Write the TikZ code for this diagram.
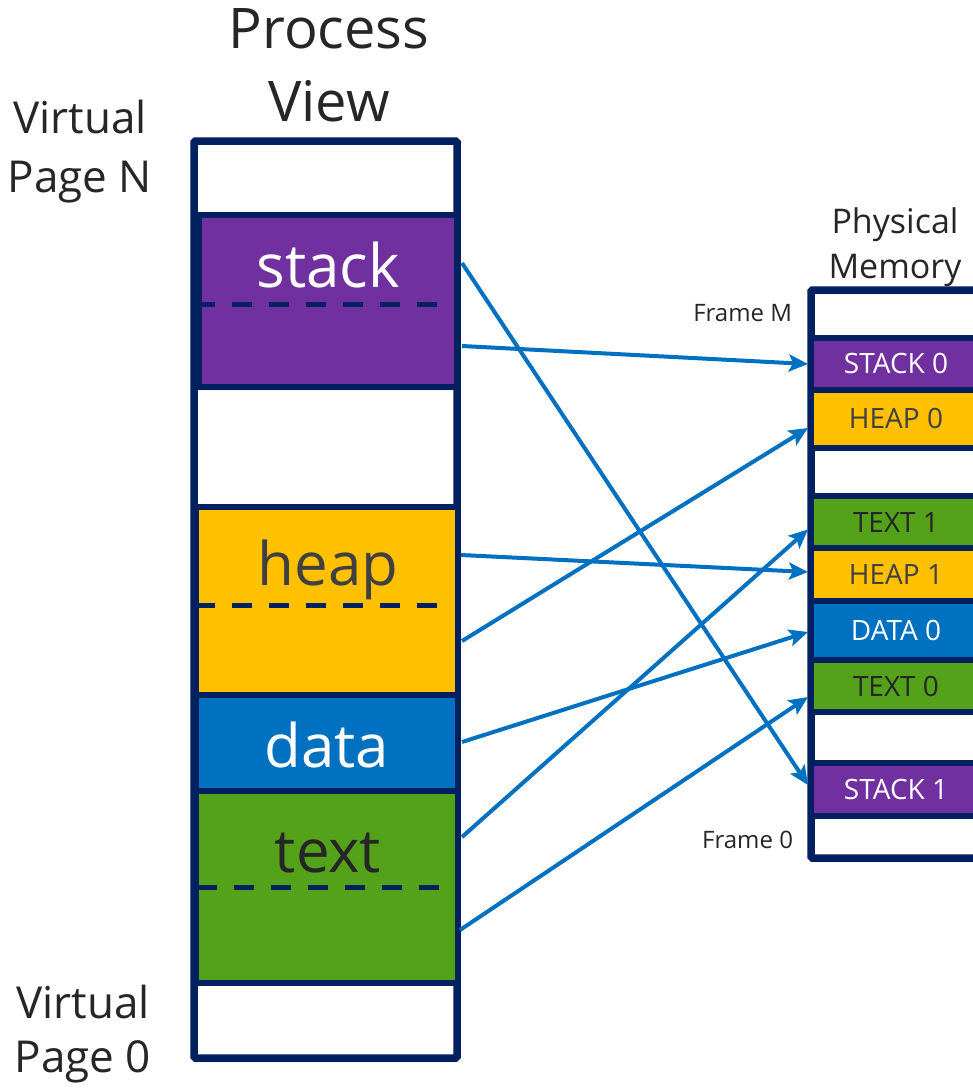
\documentclass[tikz,border=0pt]{standalone}
\usepackage{fontspec}
\setmainfont{Open Sans}
\usetikzlibrary{arrows.meta}

\definecolor{navy}{HTML}{002060}
\definecolor{segpurple}{HTML}{7030A0}
\definecolor{segyellow}{HTML}{FFC000}
\definecolor{segblue}{HTML}{0070C0}
\definecolor{seggreen}{HTML}{54A11A}
\definecolor{linkblue}{HTML}{0070C0}
\definecolor{inkdark}{HTML}{262626}
\definecolor{inkgray}{HTML}{404040}

\begin{document}
\begin{tikzpicture}[x=1bp, y=-1bp,
  every node/.style={inner sep=0pt, outer sep=0pt, text=inkdark},
  memcol/.style={draw=navy, fill=white, line width=7.5bp, rounded corners=1.5bp, anchor=north west},
  segment/.style={draw=navy, line width=6bp, anchor=north west},
  framebox/.style={segment, minimum width=170bp, font=\fontsize{28bp}{34bp}\selectfont},
  splitline/.style={draw=navy, line width=5bp, dash pattern=on 20bp off 17bp},
  blocklabel/.style={anchor=base, font=\fontsize{60bp}{72bp}\selectfont},
  maparrow/.style={draw=linkblue, line width=4bp, -{Stealth[length=19bp, width=17bp, inset=4bp]}},
]
\clip (0,0) rectangle (973,1089);
\fill[white] (0,0) rectangle (973,1089);

% ---- headings (placed by the baseline of their last line) ----
\node[anchor=base, align=center, font=\fontsize{56bp}{73bp}\selectfont] (title) at (329,121) {Process\\View};
\node[anchor=base, align=center, font=\fontsize{44bp}{59bp}\selectfont] (pagetop) at (80,192) {Virtual\\Page N};
\node[anchor=base, align=center, font=\fontsize{44bp}{54bp}\selectfont] (pagebottom) at (83,1072) {Virtual\\Page 0};
\node[anchor=base, align=center, font=\fontsize{34bp}{45bp}\selectfont] (phystitle) at (895,278) {Physical\\Memory};
\node[anchor=base east, font=\fontsize{24bp}{28bp}\selectfont] (framem) at (792,321) {Frame M};
\node[anchor=base east, font=\fontsize{24bp}{28bp}\selectfont] (frame0) at (793,848) {Frame 0};

% ---- virtual address space of the process ----
\node[memcol, minimum width=263bp, minimum height=917bp] (procview) at (194,141) {};
\node[segment, fill=segpurple, minimum width=258bp, minimum height=172.5bp] (stackseg) at (199,214.5) {};
\node[segment, fill=segyellow, minimum width=262bp, minimum height=188bp] (heapseg) at (196,507) {};
\node[segment, fill=segblue, minimum width=262bp, minimum height=96bp] (dataseg) at (196,695) {};
\node[segment, fill=seggreen, minimum width=262bp, minimum height=192bp] (textseg) at (196,791) {};

\draw[splitline] (195,304) -- (440,304);
\draw[splitline] (195,605) -- (440,605);
\draw[splitline] (197,887) -- (442,887);

\node[blocklabel, text=white] (stacklbl) at (328,287) {stack};
\node[blocklabel, text=inkgray] (heaplbl) at (328,585) {heap};
\node[blocklabel, text=white] (datalbl) at (327,767) {data};
\node[blocklabel, text=inkdark] (textlbl) at (328,872) {text};

% ---- physical frames ----
\node[memcol, minimum width=200bp, minimum height=568bp] (physmem) at (811,290) {};
\node[framebox, fill=segpurple, minimum height=52.5bp, text=white] (stack0) at (811,337.5) {STACK 0};
\node[framebox, fill=segyellow, minimum height=57.5bp, text=inkgray] (heap0) at (811,390) {HEAP 0};
\node[framebox, fill=seggreen, minimum height=52bp, text=inkdark] (text1) at (811,496) {TEXT 1};
\node[framebox, fill=segyellow, minimum height=52.5bp, text=inkgray] (heap1) at (811,548) {HEAP 1};
\node[framebox, fill=segblue, minimum height=59.5bp, text=white] (data0) at (811,600.5) {DATA 0};
\node[framebox, fill=seggreen, minimum height=52bp, text=inkdark] (text0) at (811,660) {TEXT 0};
\node[framebox, fill=segpurple, minimum height=53bp, text=white] (stack1) at (811,763) {STACK 1};

% ---- page to frame mappings ----
\draw[maparrow] ([shift={(5,48.5)}]stackseg.north east) -- ([shift={(-3,22)}]stack1.north west);
\draw[maparrow] ([shift={(5,131.5)}]stackseg.north east) -- ([shift={(-3,26.5)}]stack0.north west);
\draw[maparrow] ([shift={(3,48)}]heapseg.north east) -- ([shift={(-3,24)}]heap1.north west);
\draw[maparrow] ([shift={(4,134)}]heapseg.north east) -- ([shift={(-3,38)}]heap0.north west);
\draw[maparrow] ([shift={(4,47)}]dataseg.north east) -- ([shift={(-3,31.5)}]data0.north west);
\draw[maparrow] ([shift={(4,46)}]textseg.north east) -- ([shift={(-3,33.5)}]text1.north west);
\draw[maparrow] ([shift={(2,139)}]textseg.north east) -- ([shift={(-3,37)}]text0.north west);
\end{tikzpicture}
\end{document}
